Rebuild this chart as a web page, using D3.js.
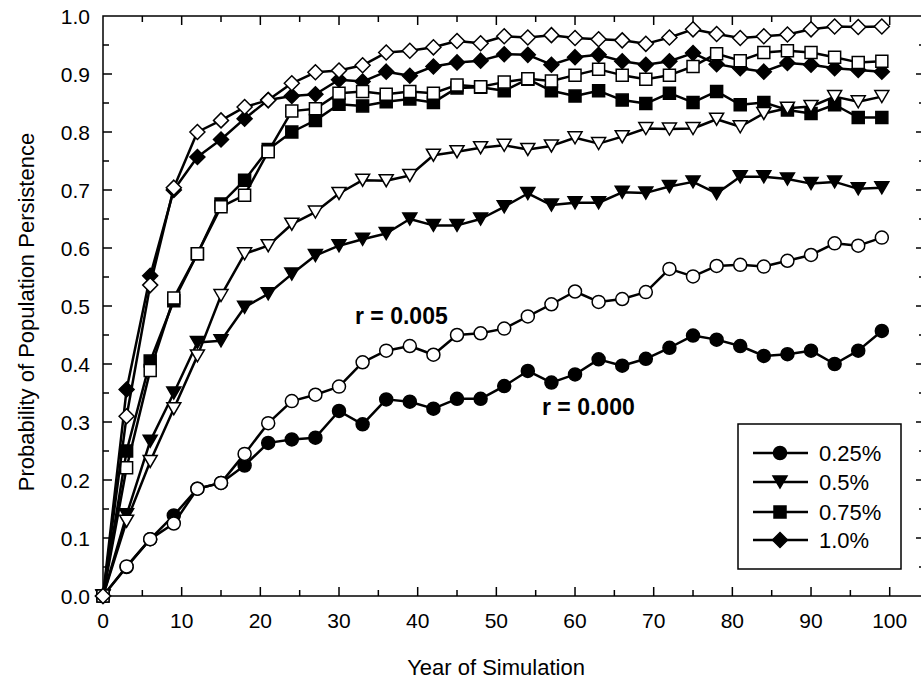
<!DOCTYPE html>
<html>
<head>
<meta charset="utf-8">
<script src="https://cdn.jsdelivr.net/npm/d3@7"></script>
<style>
  body { margin: 0; background: #fff; }
  text { font-family: Arial, "Liberation Sans", Helvetica, sans-serif; fill: #000; }
</style>
</head>
<body>
<script>
'use strict';

(function() {

  // years sampled every 3
  const years = d3.range(0, 100, 3);

  // r = 0.000 (filled markers)
  const filled025 = [0, 0.05, 0.098, 0.139, 0.185, 0.195, 0.225, 0.264, 0.270, 0.273, 0.319, 0.296,
    0.339, 0.335, 0.323, 0.340, 0.340, 0.362, 0.388, 0.368, 0.382, 0.408, 0.397, 0.409, 0.428,
    0.449, 0.442, 0.431, 0.414, 0.417, 0.423, 0.400, 0.423, 0.457];
  const filled05 = [0, 0.14, 0.267, 0.35, 0.437, 0.440, 0.498, 0.521, 0.555, 0.587, 0.604, 0.615,
    0.625, 0.650, 0.639, 0.639, 0.650, 0.671, 0.694, 0.674, 0.678, 0.678, 0.696, 0.695, 0.706,
    0.714, 0.694, 0.723, 0.723, 0.719, 0.711, 0.714, 0.702, 0.704];
  const filled075 = [0, 0.25, 0.405, 0.509, 0.59, 0.676, 0.717, 0.77, 0.80, 0.82, 0.848, 0.845,
    0.852, 0.857, 0.851, 0.876, 0.877, 0.871, 0.891, 0.871, 0.862, 0.871, 0.855, 0.849, 0.867,
    0.851, 0.870, 0.847, 0.851, 0.838, 0.832, 0.847, 0.825, 0.825];
  const filled10 = [0, 0.356, 0.552, 0.70, 0.757, 0.787, 0.823, 0.855, 0.862, 0.865, 0.89, 0.887,
    0.904, 0.897, 0.913, 0.920, 0.923, 0.934, 0.933, 0.916, 0.929, 0.933, 0.922, 0.916, 0.922,
    0.936, 0.917, 0.910, 0.904, 0.919, 0.916, 0.910, 0.907, 0.904];

  // r = 0.005 (open markers)
  const open025 = [0, 0.051, 0.098, 0.125, 0.185, 0.195, 0.245, 0.298, 0.336, 0.347, 0.361, 0.403,
    0.423, 0.431, 0.416, 0.450, 0.453, 0.461, 0.482, 0.503, 0.525, 0.507, 0.512, 0.524, 0.564,
    0.551, 0.569, 0.571, 0.568, 0.578, 0.588, 0.608, 0.604, 0.618];
  const open05 = [0, 0.129, 0.232, 0.323, 0.414, 0.518, 0.590, 0.604, 0.641, 0.662, 0.694, 0.717,
    0.716, 0.725, 0.76, 0.766, 0.773, 0.777, 0.770, 0.776, 0.79, 0.780, 0.792, 0.806, 0.805,
    0.806, 0.822, 0.809, 0.832, 0.841, 0.844, 0.861, 0.852, 0.861];
  const open075 = [0, 0.221, 0.389, 0.514, 0.59, 0.671, 0.691, 0.766, 0.836, 0.84, 0.867, 0.87,
    0.865, 0.87, 0.867, 0.881, 0.878, 0.886, 0.892, 0.888, 0.898, 0.908, 0.898, 0.891, 0.898,
    0.913, 0.935, 0.923, 0.937, 0.940, 0.937, 0.929, 0.920, 0.922];
  const open10 = [0, 0.31, 0.536, 0.704, 0.80, 0.82, 0.843, 0.855, 0.884, 0.903, 0.906, 0.915,
    0.937, 0.94, 0.946, 0.957, 0.953, 0.965, 0.963, 0.967, 0.962, 0.960, 0.958, 0.952, 0.963,
    0.977, 0.969, 0.962, 0.965, 0.968, 0.977, 0.982, 0.981, 0.982];

  const legendLabels = ['0.25%', '0.5%', '0.75%', '1.0%'];
  const shapes = ['circle', 'triangle', 'square', 'diamond'];
  const xTicks = d3.range(0, 101, 10);
  const yTicks = d3.range(0, 1.01, 0.1);

  const series = [
    { values: filled025, shape: 'circle', fill: '#000' },
    { values: filled05, shape: 'triangle', fill: '#000' },
    { values: filled075, shape: 'square', fill: '#000' },
    { values: filled10, shape: 'diamond', fill: '#000' },
    { values: open025, shape: 'circle', fill: '#fff' },
    { values: open05, shape: 'triangle', fill: '#fff' },
    { values: open075, shape: 'square', fill: '#fff' },
    { values: open10, shape: 'diamond', fill: '#fff' }
  ];

  const svg = d3.select('body')
    .append('svg')
    .attr('width', 921)
    .attr('height', 683);

  const xScale = d3.scaleLinear().domain([0, 100]).range([103, 889.7]);
  const yScale = d3.scaleLinear().domain([0, 1]).range([596, 16]);
  const left = 103, right = 925, top = 16, bottom = 596;

  // marker path, centred on 0,0
  function markerPath(shape) {
    if (shape === 'circle') {
      let p = d3.path();
      p.arc(0, 0, 6.5, 0, 2 * Math.PI);
      return p.toString();
    }
    if (shape === 'square') return 'M-6,-6H6V6H-6Z';
    if (shape === 'diamond') return 'M0,-7.5L7.5,0L0,7.5L-7.5,0Z';
    return 'M-7,-6L7,-6L0,6Z'; // triangle pointing down
  }

  // frame and ticks
  const axes = svg.append('g').attr('stroke', '#000').attr('stroke-width', 1.5);
  axes.append('rect')
    .attr('x', left).attr('y', top)
    .attr('width', right - left).attr('height', bottom - top)
    .attr('fill', 'none');

  const xMinor = d3.range(5, 101, 5);
  xMinor.forEach((v) => {
    let len = v % 10 === 0 ? 9 : 6;
    axes.append('line')
      .attr('x1', xScale(v)).attr('x2', xScale(v))
      .attr('y1', bottom).attr('y2', bottom - len);
    axes.append('line')
      .attr('x1', xScale(v)).attr('x2', xScale(v))
      .attr('y1', top).attr('y2', top + len);
  });

  const yMinor = d3.range(1, 20).map((i) => i * 0.05);
  yMinor.forEach((v, i) => {
    let len = i % 2 === 1 ? 9 : 6;
    axes.append('line')
      .attr('x1', left).attr('x2', left + len)
      .attr('y1', yScale(v)).attr('y2', yScale(v));
    axes.append('line')
      .attr('x1', right).attr('x2', right - len)
      .attr('y1', yScale(v)).attr('y2', yScale(v));
  });

  // tick labels
  svg.selectAll('.xlab')
    .data(xTicks)
    .enter()
    .append('text')
    .attr('x', (d) => xScale(d))
    .attr('y', 628)
    .attr('text-anchor', 'middle')
    .style('font-size', '21px')
    .text((d) => d);

  svg.selectAll('.ylab')
    .data(yTicks)
    .enter()
    .append('text')
    .attr('x', 90)
    .attr('y', (d) => yScale(d) + 7.5)
    .attr('text-anchor', 'end')
    .style('font-size', '21px')
    .text((d) => d.toFixed(1));

  // axis titles
  svg.append('text')
    .attr('x', 496)
    .attr('y', 675)
    .attr('text-anchor', 'middle')
    .style('font-size', '22px')
    .text('Year of Simulation');

  svg.append('text')
    .attr('transform', 'translate(34, 312)rotate(-90)')
    .attr('text-anchor', 'middle')
    .style('font-size', '22px')
    .text('Probability of Population Persistence');

  // series
  const line = d3.line()
    .x((d, i) => xScale(years[i]))
    .y((d) => yScale(d));

  series.forEach((s) => {
    let g = svg.append('g');
    g.append('path')
      .attr('d', line(s.values))
      .attr('fill', 'none')
      .attr('stroke', '#000')
      .attr('stroke-width', 2.5)
      .attr('stroke-linejoin', 'round');
    g.selectAll('path.m')
      .data(s.values)
      .enter()
      .append('path')
      .attr('class', 'm')
      .attr('d', markerPath(s.shape))
      .attr('transform', (d, i) => 'translate(' + xScale(years[i]) + ',' + yScale(d) + ')')
      .attr('fill', s.fill)
      .attr('stroke', '#000')
      .attr('stroke-width', 1.5);
  });

  // annotations
  svg.append('text')
    .attr('x', 355).attr('y', 324)
    .style('font-size', '23px')
    .style('font-weight', 'bold')
    .text('r = 0.005');

  svg.append('text')
    .attr('x', 542).attr('y', 415)
    .style('font-size', '23px')
    .style('font-weight', 'bold')
    .text('r = 0.000');

  // legend
  const legend = svg.append('g');
  legend.append('rect')
    .attr('x', 738).attr('y', 424)
    .attr('width', 163).attr('height', 145)
    .attr('fill', '#fff')
    .attr('stroke', '#000')
    .attr('stroke-width', 1.5);

  const rowY = [453, 482, 512, 540];
  legendLabels.forEach((lab, i) => {
    legend.append('line')
      .attr('x1', 753).attr('x2', 808)
      .attr('y1', rowY[i]).attr('y2', rowY[i])
      .attr('stroke', '#000')
      .attr('stroke-width', 2.5);
    legend.append('path')
      .attr('d', markerPath(shapes[i]))
      .attr('transform', 'translate(780,' + rowY[i] + ')')
      .attr('fill', '#000')
      .attr('stroke', '#000')
      .attr('stroke-width', 1.5);
    legend.append('text')
      .attr('x', 819).attr('y', rowY[i] + 8)
      .style('font-size', '22px')
      .text(lab);
  });

})();
</script>
</body>
</html>
